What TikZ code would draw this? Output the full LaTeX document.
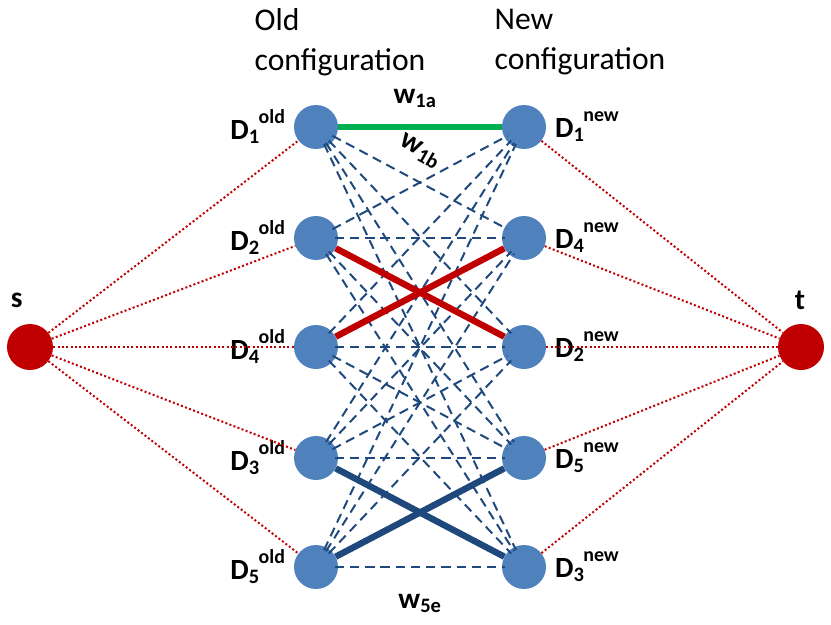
\documentclass[tikz,border=0pt]{standalone}
\usepackage{fontspec}
\setmainfont{Carlito}
\definecolor{nodeblue}{RGB}{79,129,189}
\definecolor{darkblue}{RGB}{31,73,125}
\definecolor{darkred}{RGB}{192,0,0}
\definecolor{mygreen}{RGB}{0,176,80}
\newcommand{\dlab}[2]{D\textsubscript{#1}\kern-1pt\raisebox{1.1ex}{\fontsize{17}{19}\selectfont #2}}
\tikzset{
  dev/.style={circle, fill=nodeblue, minimum size=1.32cm, inner sep=0pt},
  term/.style={circle, fill=darkred, minimum size=1.38cm, inner sep=0pt},
  cand/.style={darkblue, line width=1.7pt, dash pattern=on 8pt off 5pt, shorten <=-3pt, shorten >=-3pt},
  flow/.style={darkred, line width=1.7pt, dotted},
  pick/.style={line width=5.5pt},
  lbl/.style={font=\fontsize{25}{29}\selectfont\bfseries}
}
\begin{document}
\begin{tikzpicture}
\useasboundingbox (0,0) rectangle (24.93,-18.72);
% nodes
\node[term] (s) at (0.9,-10.41) {};
\node[term] (t) at (24.03,-10.41) {};
\foreach \i/\y/\d in {1/3.81/1, 2/7.14/2, 3/10.41/4, 4/13.74/3, 5/17.01/5}
  \node[dev, label={[lbl, anchor=east, xshift=-4pt]west:\dlab{\d}{old}}] (L\i) at (9.48,-\y) {};
\foreach \i/\y/\d in {1/3.81/1, 2/7.14/4, 3/10.41/2, 4/13.74/5, 5/17.01/3}
  \node[dev, label={[lbl, anchor=west, xshift=4pt]east:\dlab{\d}{new}}] (R\i) at (15.72,-\y) {};
% candidate edges
\foreach \i in {1,...,5}
  \foreach \j in {1,...,5} {
    \pgfmathtruncatemacro{\skip}{(\i==1 && \j==1) || (\i==2 && \j==3) || (\i==3 && \j==2) || (\i==4 && \j==5) || (\i==5 && \j==4)}
    \ifnum\skip=0 \draw[cand] (L\i) -- (R\j); \fi
  }
% chosen edges
\draw[pick, mygreen, line width=4.5pt] (L1) -- (R1);
\draw[pick, darkred] (L2) -- (R3);
\draw[pick, darkred] (L3) -- (R2);
\draw[pick, darkblue] (L4) -- (R5);
\draw[pick, darkblue] (L5) -- (R4);
% source and sink
\foreach \i in {1,...,5} {
  \draw[flow] (s) -- (L\i);
  \draw[flow] (R\i) -- (t);
}
% texts
\node[font=\fontsize{27}{34}\selectfont, align=left] (oldc) at (10.2,-1.26) {Old\\configuration};
\node[font=\fontsize{27}{34}\selectfont, align=left] (newc) at (17.4,-1.26) {New\\configuration};
\node[lbl] (sl) at (0.5,-9.0) {s};
\node[lbl] (tl) at (24.0,-9.0) {t};
\node[lbl] (wa) at (12.45,-2.95) {w\textsubscript{1a}};
\node[lbl, rotate=-30] (wb) at (12.6,-4.55) {w\textsubscript{1b}};
\node[lbl] (we) at (12.6,-18.1) {w\textsubscript{5e}};
\end{tikzpicture}
\end{document}
